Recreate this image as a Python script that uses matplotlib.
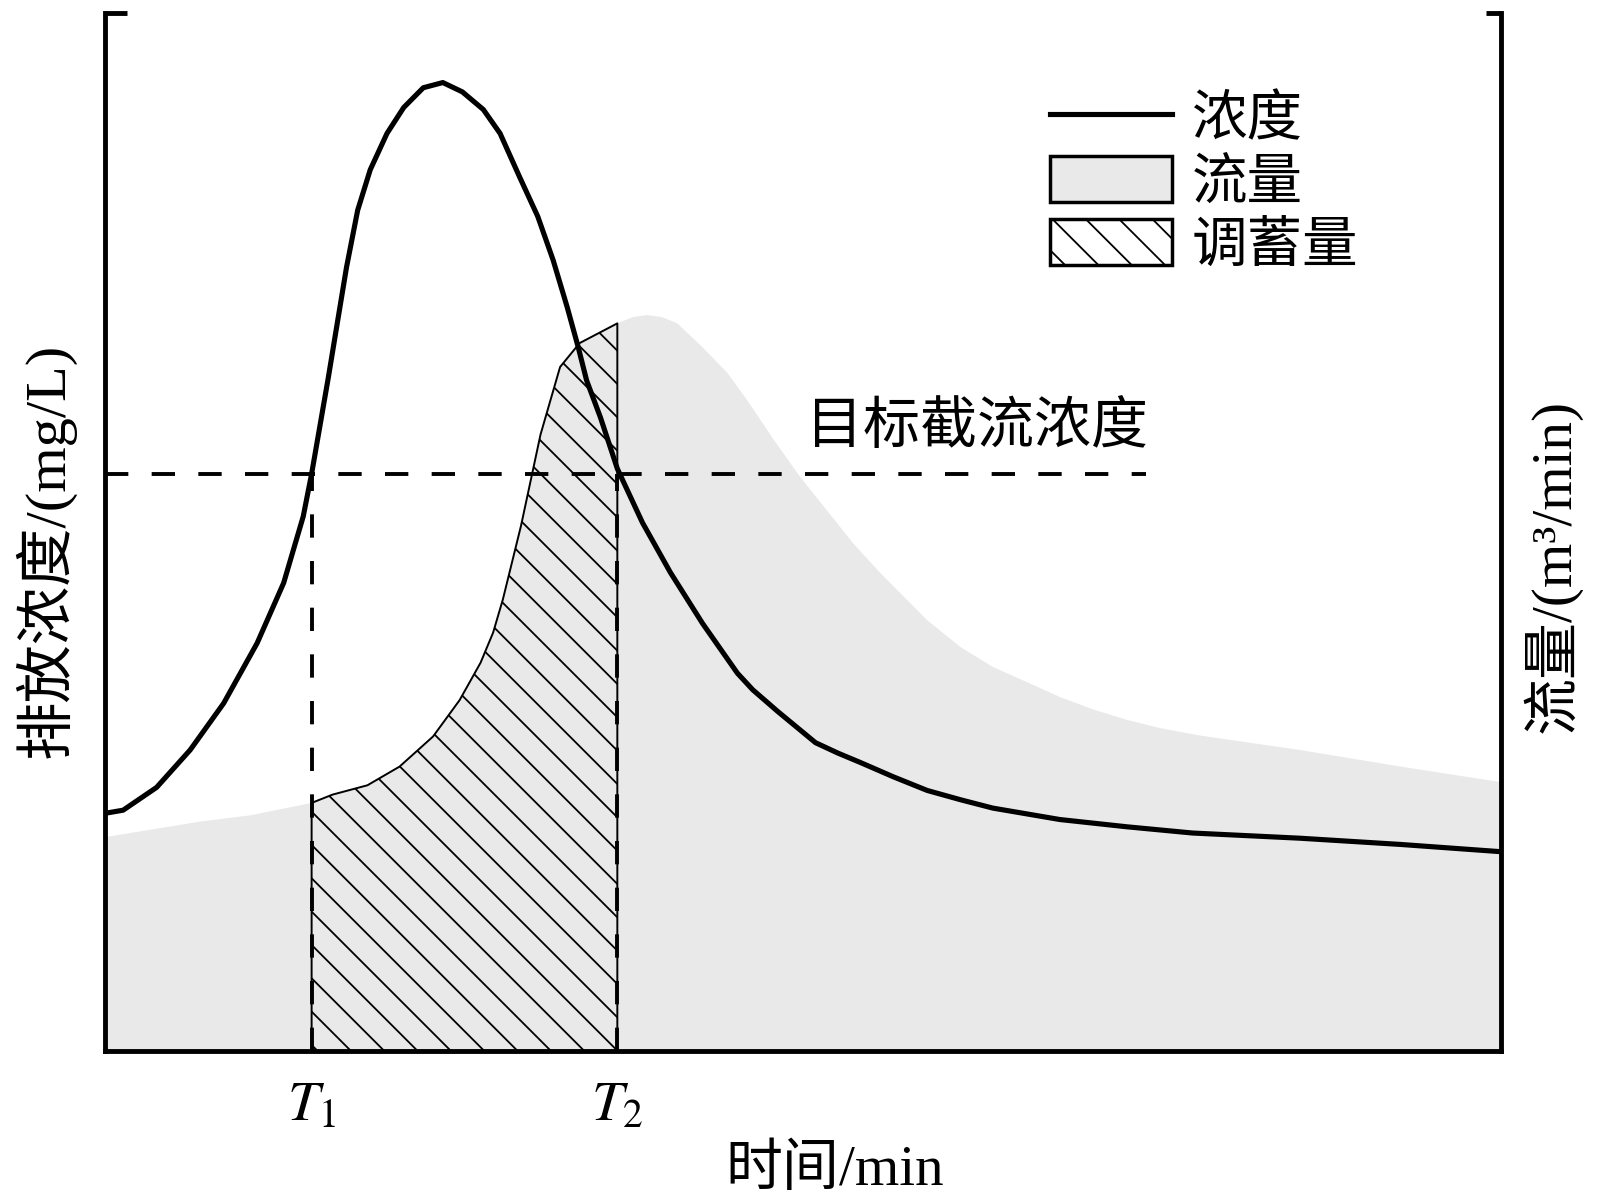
import numpy as np
import matplotlib
matplotlib.use('Agg')
import matplotlib.pyplot as plt
from matplotlib.lines import Line2D
from matplotlib.patches import Patch

# ---------------- data ----------------
conc_t = [0.0, 1.3, 3.7, 6.1, 8.5, 10.9, 12.8, 14.2, 14.8, 16.0, 16.6, 17.3,
          18.1, 19.0, 20.2, 21.4, 22.8, 24.2, 25.6, 27.1, 28.3, 29.7, 31.0,
          32.1, 33.1, 33.9, 34.5, 35.5, 36.7, 38.5, 40.5, 42.8, 45.3, 46.4,
          48.2, 50.9, 52.5, 54.1, 56.5, 58.9, 61.3, 63.6, 68.4, 73.2, 77.9,
          85.6, 92.8, 100.0]
conc_v = [22.9, 23.2, 25.4, 29.0, 33.5, 39.3, 45.1, 51.5, 55.6, 64.9, 69.8, 75.5,
          81.0, 84.9, 88.4, 90.9, 92.8, 93.3, 92.4, 90.7, 88.4, 84.2, 80.4,
          76.2, 71.7, 67.8, 64.6, 61.0, 56.1, 50.9, 46.1, 41.2, 36.4, 34.8,
          32.7, 29.7, 28.7, 27.8, 26.4, 25.1, 24.2, 23.4, 22.3, 21.6, 21.0,
          20.5, 19.9, 19.2]

flow_t = [0.0, 6.8, 10.4, 14.8, 16.3, 18.8, 21.1, 23.5, 25.4, 26.9, 27.8, 28.5,
          29.8, 31.2, 32.6, 34.0, 36.7, 37.8, 38.8, 39.9, 41.0, 42.8, 44.6,
          46.0, 47.9, 49.8, 51.7, 53.6, 55.5, 58.9, 61.3, 63.6, 66.1, 68.4,
          70.8, 73.2, 75.6, 78.4, 85.6, 92.8, 100.0]
flow_v = [20.6, 22.1, 22.7, 23.9, 24.7, 25.6, 27.4, 30.3, 33.8, 37.4, 40.3, 43.5,
          50.6, 59.4, 65.9, 68.2, 70.1, 70.7, 70.9, 70.7, 70.1, 67.8, 65.3,
          62.7, 58.9, 55.3, 52.1, 48.9, 46.1, 41.5, 38.9, 37.0, 35.5, 34.1,
          32.9, 31.9, 31.1, 30.4, 29.0, 27.4, 25.9]

T1, T2 = 14.8, 36.7
target_conc = 55.6
target_end = 74.6
tick_labels = ['$T_1$', '$T_2$']
legend_labels = ['浓度', '流量', '调蓄量']
target_label = '目标截流浓度'
xlabel = '时间/min'
ylabel_left = '排放浓度/(mg/L)'
ylabel_right = '流量/(m³/min)'

# ---------------- style ----------------
plt.rcParams['mathtext.fontset'] = 'stix'
plt.rcParams['hatch.linewidth'] = 1.3
CJK = ['Noto Sans CJK SC', 'DejaVu Sans']
MIX = ['Liberation Serif', 'Noto Sans CJK SC']
gray = '#e9e9e9'
spine_w = 3.5

fig = plt.figure(figsize=(16, 12.03), dpi=100)
fig.patch.set_facecolor('white')
ax = fig.add_axes([0.065625, 0.12635, 0.8725, 0.86284])
ax2 = ax.twinx()
ax.set_zorder(ax2.get_zorder() + 1)
ax.patch.set_visible(False)

# flow (right axis)
ft = np.array(flow_t)
fv = np.array(flow_v)
ax2.fill_between(ft, 0, fv, facecolor=gray, edgecolor='none', lw=0)
m = (ft >= T1) & (ft <= T2)
ax2.fill_between(ft[m], 0, fv[m], facecolor=gray, edgecolor='black',
                 hatch='\\', lw=1.4)

# concentration (left axis)
ax.plot(conc_t, conc_v, color='black', lw=3.7, solid_joinstyle='round',
        solid_capstyle='butt')
ax.hlines(target_conc, 0, target_end, colors='black', lw=2.8,
          linestyles=(0, (6, 6)))
ax.vlines([T1, T2], 0, target_conc, colors='black', lw=2.8,
          linestyles=(0, (6, 6)))
ax.text(50.2, 60.1, target_label, fontsize=41, family=CJK,
        ha='left', va='center')

for a in (ax, ax2):
    a.set_xlim(0, 100)
    a.set_ylim(0, 100)

# spines
ax.spines['top'].set_visible(False)
ax.spines['right'].set_visible(False)
for s in ('left', 'bottom'):
    ax.spines[s].set_linewidth(spine_w)
for s in ('top', 'left', 'bottom'):
    ax2.spines[s].set_visible(False)
ax2.spines['right'].set_linewidth(spine_w)

# ticks
ax.set_xticks([T1, T2], tick_labels)
ax.tick_params(axis='x', length=0, pad=19, labelsize=41)
ax.set_yticks([100])
ax.tick_params(axis='y', direction='in', length=16, width=spine_w,
               labelleft=False)
ax2.set_yticks([100])
ax2.tick_params(axis='y', direction='in', length=11, width=spine_w,
                labelright=False)

# labels
ax.set_xlabel(xlabel, fontsize=41, family=MIX)
ax.xaxis.set_label_coords(0.523, -0.090)
ax.set_ylabel(ylabel_left, fontsize=42, family=MIX, rotation=90,
              va='center', ha='center')
ax.yaxis.set_label_coords(-0.043, 0.482)
ax2.set_ylabel(ylabel_right, fontsize=41, family=MIX, rotation=90,
               va='center', ha='center')
ax2.yaxis.set_label_coords(1.0365, 0.467)

# legend
handles = [Line2D([], [], color='black', lw=3.7),
           Patch(facecolor=gray, edgecolor='black', lw=2.5),
           Patch(facecolor='white', edgecolor='black', hatch='\\', lw=2.5)]
ax.legend(handles, legend_labels, loc='upper left',
          bbox_to_anchor=(0.677, 0.925), frameon=False,
          prop={'family': CJK, 'size': 40}, handlelength=2.2,
          handleheight=0.9, handletextpad=0.35, labelspacing=0.1,
          borderpad=0, borderaxespad=0)

fig.savefig('out.png', dpi=100, facecolor='white')
